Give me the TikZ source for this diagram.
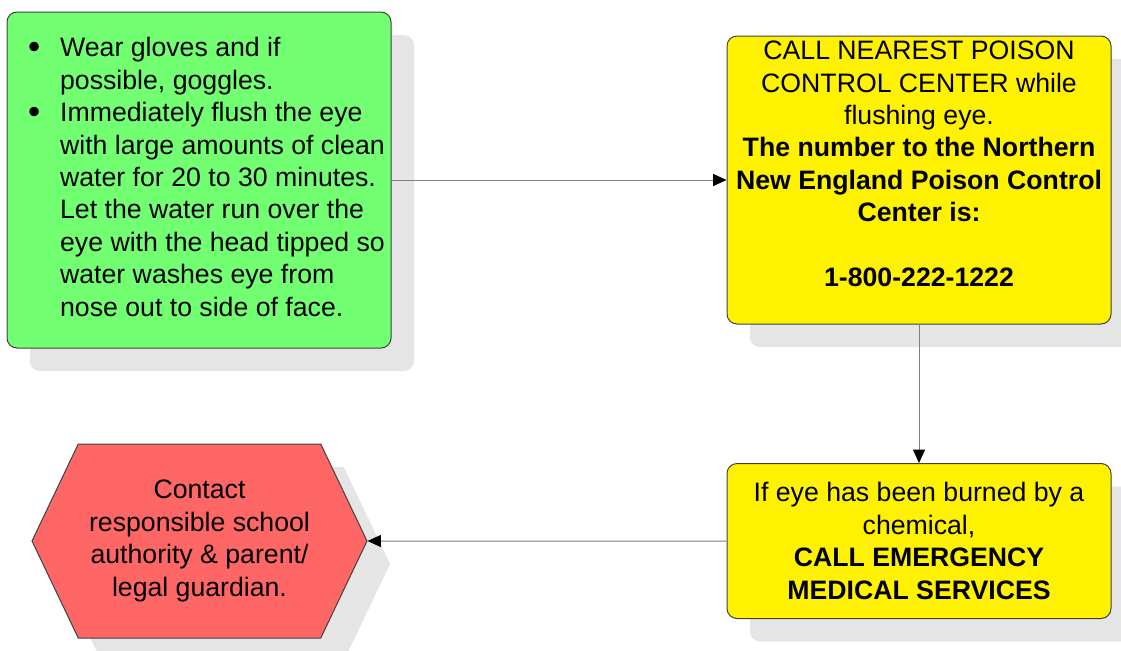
\documentclass[tikz,border=0pt]{standalone}
\usepackage{fontspec}
\setmainfont{Liberation Sans}
\usetikzlibrary{shapes.symbols}
\usetikzlibrary{shadows}
\usetikzlibrary{arrows.meta}

\definecolor{flushgreen}{RGB}{114,255,114}
\definecolor{contactred}{RGB}{255,102,102}
\newcommand{\stepdot}{\raisebox{-1.5pt}{\fontsize{26}{24.3}\selectfont\textbullet}}
\tikzset{
  card/.style={draw=black!75, line width=0.75pt, inner sep=0pt, align=center,
    font=\fontsize{20}{24.3}\selectfont,
    drop shadow={shadow xshift=17.25pt, shadow yshift=-17.25pt, fill=black!10, opacity=1}},
  box/.style={card, rounded corners=7.5pt, minimum width=288pt},
  hexbox/.style={card, signal, signal to=west and east, signal pointer angle=129,
    fill=contactred, minimum width=251.25pt, minimum height=145.5pt},
  link/.style={draw=black!50, line width=0.75pt, -{Triangle[length=10pt, width=9pt, color=black]}}
}

\begin{document}
\begin{tikzpicture}[x=0.75pt,y=-0.75pt]
\useasboundingbox (0,0) rectangle (1121,650);
\node[box, fill=flushgreen, minimum height=252pt] (flush) at (199,180) {%
\begin{tabular}{@{}p{24pt}@{}l@{\hspace{-11.25pt}}}
\stepdot & Wear gloves and if\\
 & possible, goggles.\\
\stepdot & Immediately flush the eye\\
 & with large amounts of clean\\
 & water for 20 to 30 minutes.\\
 & Let the water run over the\\
 & eye with the head tipped so\\
 & water washes eye from\\
 & nose out to side of face.
\end{tabular}}; % first aid steps
\node[box, fill=yellow, minimum height=216pt] (call) at (919,180)
  {CALL NEAREST POISON\\ CONTROL CENTER while\\ flushing eye.\\
   \textbf{The number to the Northern}\\ \textbf{New England Poison Control}\\
   \textbf{Center is:}\\[24.3pt] \textbf{1-800-222-1222}\\ ~}; % poison center
\node[box, fill=yellow, minimum height=116.25pt] (ems) at (919,541)
  {If eye has been burned by a\\ chemical,\\ \textbf{CALL EMERGENCY}\\ \textbf{MEDICAL SERVICES}}; % burns
\node[hexbox] (contact) at (199.5,541)
  {Contact\\ responsible school\\ authority \& parent/\\ legal guardian.}; % school contact
\draw[link] (flush) -- (call);
\draw[link] (call) -- (ems);
\draw[link] (ems) -- (contact);
\end{tikzpicture}
\end{document}
